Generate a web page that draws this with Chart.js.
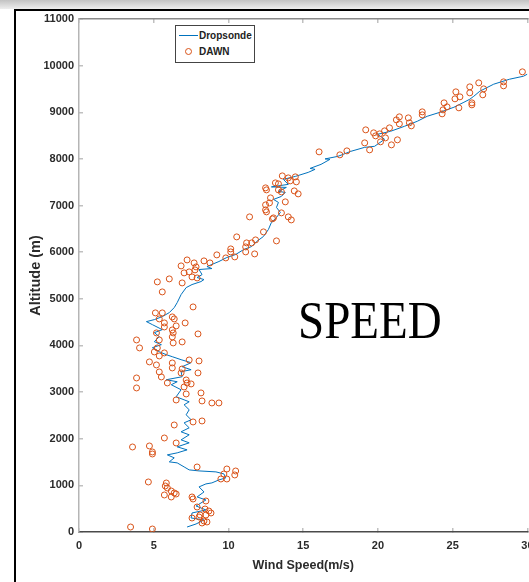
<!DOCTYPE html>
<html>
<head>
<meta charset="utf-8">
<script src="https://cdn.jsdelivr.net/npm/chart.js@4.4.0/dist/chart.umd.min.js"></script>
<style>
  html, body { margin: 0; padding: 0; overflow: hidden; background: #fff; width: 529px; height: 582px; }
  #wrap { position: relative; width: 545px; height: 582px; }
  #shade { position: absolute; left: 0; top: 0; width: 545px; height: 9px; background: linear-gradient(#c2c2c2, #eeeeee); }
  #frame { position: absolute; left: 14px; top: 9px; width: 600px; height: 600px; border-top: 2px solid #000; border-left: 2px solid #000; }
  canvas { position: absolute; left: 0; top: 0; }
  #legend { position: absolute; left: 175px; top: 25px; width: 78px; height: 36px; border: 1px solid #444; background: #fff;
            font: bold 10px "Liberation Sans", Arial, sans-serif; color: #222; }
  #legend .lab { position: absolute; left: 23px; line-height: 12px; }
  #legend .swline { position: absolute; left: 3px; top: 9px; width: 19px; height: 1px; background: #0072BD; }
  #legend .swdot { position: absolute; left: 9px; top: 22px; width: 5px; height: 5px; border: 1px solid #D95319; border-radius: 50%; }
  #speed { position: absolute; left: 298px; top: 299px; font: 47px "Liberation Serif", "Times New Roman", serif; line-height: 1;
           color: #000; transform: scaleY(1.12); transform-origin: 0 39px; }
</style>
</head>
<body>
<div id="wrap">
  <div id="shade"></div>
  <div id="frame"></div>
  <canvas id="chart" width="545" height="582"></canvas>
  <div id="legend">
    <span class="swline"></span><span class="lab" style="top:4px">Dropsonde</span>
    <span class="swdot"></span><span class="lab" style="top:20px">DAWN</span>
  </div>
  <div id="speed">SPEED</div>
</div>
<script>
// Dropsonde profile (wind speed m/s, altitude m)
const dropSpeed = [7.23, 7.83, 8.36, 7.50, 7.56, 8.49, 7.83, 8.49, 7.90, 8.36, 8.03, 8.49, 8.89, 9.36, 9.82, 9.69, 9.16, 8.03, 7.37, 7.03,
  6.57, 6.04, 6.37, 5.91, 6.57, 7.23, 6.57, 7.37, 6.83, 7.37, 6.83, 7.37, 7.03, 7.50, 7.17, 7.37, 7.03, 7.37, 6.50, 6.83,
  6.17, 6.57, 5.84, 6.90, 6.83, 7.50, 6.90, 7.50, 6.83, 6.24, 5.84, 5.37, 4.91, 5.51, 5.04, 5.37, 5.04, 5.57, 4.91, 4.51,
  5.04, 5.57, 6.04, 6.37, 6.57, 6.83, 7.17, 7.56, 8.16, 8.36, 7.90, 8.23, 8.03, 8.89, 8.56, 9.36, 9.89, 10.48, 11.02, 11.55,
  11.88, 12.34, 12.67, 12.87, 13.21, 13.47, 13.21, 13.34, 13.01, 13.54, 13.80, 13.34, 13.87, 12.87, 14.00, 13.67, 14.47, 15.33, 15.79, 15.46,
  16.19, 16.79, 16.46, 17.32, 18.18, 19.11, 19.77, 20.44, 19.97, 20.84, 21.77, 22.63, 23.29, 24.15, 25.08, 25.75, 26.14, 26.41, 26.81, 27.74,
  28.80, 29.73, 29.99];
const dropAlt = [107, 172, 258, 301, 408, 473, 558, 687, 752, 859, 967, 1031, 1053, 1117, 1160, 1246, 1289, 1310, 1332, 1396,
  1482, 1504, 1590, 1654, 1697, 1761, 1826, 1912, 1976, 2084, 2148, 2234, 2341, 2406, 2513, 2621, 2728, 2792, 2900, 3050,
  3158, 3222, 3265, 3329, 3437, 3480, 3544, 3630, 3695, 3759, 3802, 3866, 3952, 4017, 4081, 4189, 4275, 4339, 4446, 4511,
  4554, 4618, 4704, 4812, 4919, 5091, 5241, 5306, 5370, 5413, 5456, 5520, 5628, 5649, 5692, 5800, 5886, 5950, 6057, 6122,
  6229, 6337, 6487, 6637, 6745, 6852, 6960, 7067, 7131, 7196, 7282, 7303, 7389, 7400, 7454, 7561, 7625, 7711, 7776, 7797,
  7883, 7991, 8000, 8055, 8162, 8248, 8270, 8420, 8528, 8592, 8699, 8807, 8914, 9000, 9108, 9215, 9279, 9344, 9451, 9602,
  9709, 9773, 9817];

// DAWN lidar retrievals
const dawnSpeed = [3.45, 4.91, 3.58, 4.71, 4.91, 4.91, 4.64, 5.71, 6.50, 6.37, 7.63, 8.23, 7.90, 9.89, 10.48, 10.42, 9.69, 9.49, 9.89, 5.84,
  5.77, 5.91, 6.17, 6.37, 6.50, 5.71, 6.17, 7.56, 7.63, 8.49, 7.90, 8.43, 8.69, 8.83, 8.10, 8.49, 7.56, 8.03, 8.36, 8.56,
  8.23, 6.50, 8.23, 8.89, 9.36,
  5.57, 7.63, 5.11, 5.57, 6.24, 6.37, 5.37, 5.71, 7.10, 6.50, 5.71, 6.24, 6.30, 5.18, 7.96, 6.24, 3.85, 5.37, 6.30, 6.90,
  4.05, 5.24, 5.04, 5.71, 5.37, 4.71, 5.18, 6.24, 6.24, 6.90, 7.37, 8.03, 5.37, 5.51, 6.83, 7.96, 3.85, 5.91, 7.17, 7.23,
  7.50, 3.85, 7.03, 7.17, 8.16,
  5.24, 6.04, 6.90, 6.83, 7.23, 7.03, 7.37, 7.70, 7.83, 7.76, 7.56, 7.90, 8.36, 8.76, 9.22, 9.82, 10.15, 10.15, 10.42, 10.55,
  11.15, 11.15, 11.21, 11.55, 11.81, 11.75, 12.34, 11.41, 13.21, 12.94, 12.48, 12.48, 12.74, 12.54,
  12.48, 12.54, 12.81, 13.01, 13.14, 13.34, 13.60, 14.00, 14.13, 14.47, 14.54, 13.34, 13.54, 13.80, 14.40, 14.66, 14.00, 14.20, 13.54, 16.06,
  17.45, 17.92,
  19.18, 19.11, 19.44, 19.71, 19.84, 20.11, 20.44, 20.77, 20.17, 20.50, 20.90, 21.30, 21.23, 21.43, 21.43, 22.03, 22.10, 22.23, 22.96, 22.96,
  24.29, 24.35, 24.62, 24.42, 25.15, 25.21, 25.48, 25.41, 26.14, 26.14, 26.28, 26.28, 26.74, 27.01, 27.07, 28.40, 28.40, 29.66];
const dawnAlt = [107, 64, 1823, 1845, 1716, 1673, 1073, 2016, 1909, 2295, 2360, 2381, 1394, 1351, 1308, 1223, 1244, 1137, 1137, 1051,
  987, 944, 879, 837, 815, 794, 751, 751, 708, 665, 536, 493, 450, 408, 365, 365, 300, 322, 236, 215,
  193, 2831, 2810, 2767, 2767,
  5148, 4826, 4698, 4698, 4612, 4569, 4569, 4483, 4483, 4419, 4397, 4333, 4269, 4269, 4247, 4183, 4118, 4118, 4054, 4076,
  3947, 3947, 3861, 3840, 3775, 3647, 3582, 3625, 3518, 3496, 3689, 3668, 3432, 3325, 3411, 3411, 3303, 3196, 3260, 3196,
  3175, 3089, 3110, 2960, 2982,
  5363, 5427, 5341, 5706, 5834, 5556, 5577, 5770, 5684, 5620, 5470, 5448, 5813, 5770, 5942, 5877, 6070, 6006, 5899, 6328,
  6113, 6006, 6199, 6199, 6263, 5963, 6435, 6757, 6242, 6714, 6907, 7014, 7057, 6864,
  7379, 7336, 7164, 6735, 7486, 7465, 7636, 7593, 7529, 7615, 7508, 7336, 7293, 7079, 7314, 7250, 6757, 6692, 6843, 8151,
  8087, 8172,
  8623, 8344, 8194, 8559, 8494, 8537, 8601, 8666, 8366, 8451, 8301, 8409, 8837, 8902, 8752, 8880, 8773, 8709, 9009, 8945,
  8966, 9052, 9116, 9202, 9288, 9438, 9331, 9095, 9545, 9417, 9202, 9159, 9631, 9374, 9502, 9652, 9567, 9867];

const speedTicks = [0, 5, 10, 15, 20, 25, 30];
const altTicks = [0, 1000, 2000, 3000, 4000, 5000, 6000, 7000, 8000, 9000, 10000, 11000];

const tickFont = { family: '"Liberation Sans", Arial, sans-serif', size: 11, weight: 'bold' };
const titleFont = { family: '"Liberation Sans", Arial, sans-serif', size: 12.5, weight: 'bold' };
const inGrid = { drawOnChartArea: false, drawTicks: true, tickLength: -4, color: '#c0c0c0', lineWidth: 1.5 };

function setTicks(list) {
  return scale => { scale.ticks = list.map(v => ({ value: v })); };
}
// plain numbers, no thousands separator
const plain = v => String(v);

new Chart(document.getElementById('chart'), {
  type: 'scatter',
  data: {
    datasets: [
      {
        label: 'Dropsonde',
        data: dropSpeed.map((x, i) => ({ x: x, y: dropAlt[i] })),
        showLine: true,
        borderColor: '#0072BD',
        borderWidth: 1,
        pointRadius: 0,
        order: 2
      },
      {
        label: 'DAWN',
        data: dawnSpeed.map((x, i) => ({ x: x, y: dawnAlt[i] })),
        showLine: false,
        pointStyle: 'circle',
        pointRadius: 3,
        borderColor: '#D95319',
        backgroundColor: 'rgba(0,0,0,0)',
        borderWidth: 1,
        order: 1
      }
    ]
  },
  options: {
    responsive: false,
    animation: false,
    devicePixelRatio: 1,
    layout: { padding: { left: 0, top: 19, right: 14, bottom: 0 } },
    plugins: { legend: { display: false }, tooltip: { enabled: false } },
    scales: {
      x: {
        type: 'linear', position: 'bottom', min: 0, max: 30,
        afterBuildTicks: setTicks(speedTicks),
        afterFit: s => { s.height = 50; },
        border: { color: '#4a4a4a', width: 1.5 },
        grid: inGrid,
        ticks: { padding: 11.4, font: tickFont, color: '#2b2b2b', maxRotation: 0, callback: plain },
        title: { display: true, text: 'Wind Speed(m/s)', font: titleFont, color: '#2b2b2b', padding: { top: 0, bottom: 8.5 } }
      },
      x2: {
        type: 'linear', position: 'top', min: 0, max: 30,
        afterBuildTicks: setTicks(speedTicks),
        afterFit: s => { s.height = 0; },
        border: { color: '#8a8a8a', width: 1.5 },
        grid: inGrid,
        ticks: { display: false }
      },
      y: {
        type: 'linear', position: 'left', min: 0, max: 11000,
        afterBuildTicks: setTicks(altTicks),
        afterFit: s => { s.width = 79; },
        border: { color: '#b5b5b5', width: 1.5 },
        grid: inGrid,
        ticks: { padding: 9, font: tickFont, color: '#2b2b2b', callback: plain },
        title: { display: true, text: 'Altitude (m)', font: { family: titleFont.family, size: 14.5, weight: 'bold' },
                 color: '#2b2b2b', padding: { top: 27, bottom: 0 } }
      }
    }
  }
});
</script>
</body>
</html>
